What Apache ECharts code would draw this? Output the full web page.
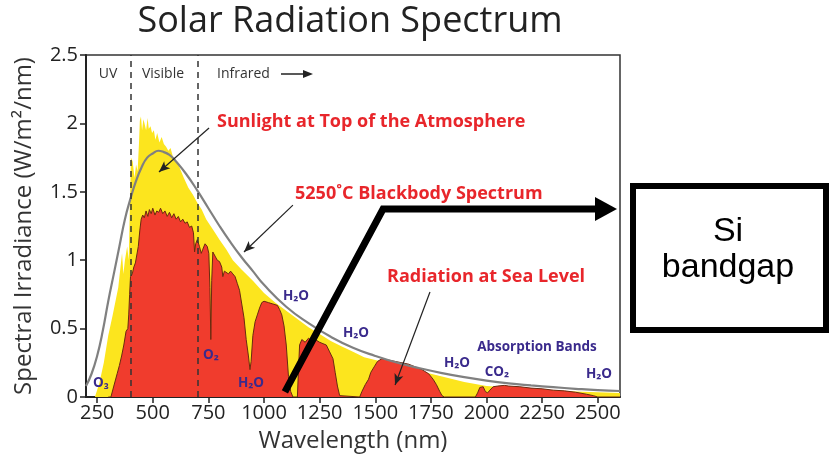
<!DOCTYPE html>
<html>
<head>
<meta charset="utf-8">
<script src="https://cdn.jsdelivr.net/npm/echarts@6/dist/echarts.min.js"></script>
<style>html,body{margin:0;padding:0;background:#fff;}#c{width:829px;height:456px;}</style>
</head>
<body>
<div id="c"></div>
<script>
// ---- data (wavelength nm, spectral irradiance W/m2/nm) ----
const xTicks = [250, 500, 750, 1000, 1250, 1500, 1750, 2000, 2250, 2500];
const regionBounds = [400, 700];

const topOfAtmosphere = [
  [240,0],[260,0.1],[280,0.25],[300,0.45],[320,0.6],[335,0.72],[345,0.8],[355,0.95],[362,1.05],[368,0.9],
  [375,1.0],[385,1.1],[392,1.0],[398,1.45],[402,1.75],[410,1.72],[418,1.6],[425,1.7],[432,1.65],[438,1.85],
  [442,2.02],[447,2.05],[452,1.95],[458,2.03],[463,2.0],[470,1.95],[477,2.04],[482,1.96],[490,1.98],[497,1.93],
  [505,1.95],[512,1.88],[520,1.93],[530,1.86],[540,1.9],[550,1.85],[560,1.83],[570,1.8],[580,1.82],[590,1.76],
  [600,1.74],[620,1.68],[640,1.6],[660,1.53],[680,1.48],[700,1.42],[720,1.37],[740,1.3],[760,1.25],[780,1.2],
  [800,1.15],[830,1.08],[860,1.0],[900,0.93],[950,0.85],[1000,0.76],[1050,0.69],[1100,0.63],[1150,0.57],[1200,0.51],
  [1250,0.46],[1300,0.41],[1350,0.37],[1400,0.33],[1450,0.29],[1500,0.27],[1550,0.25],[1600,0.23],[1650,0.21],
  [1700,0.19],[1750,0.17],[1800,0.15],[1850,0.13],[1900,0.11],[1950,0.095],[2000,0.08],[2050,0.075],[2100,0.07],
  [2200,0.06],[2300,0.05],[2400,0.04],[2500,0.035],[2600,0.03]
];

const seaLevel = [
  [300,0],[312,0],[325,0.08],[340,0.17],[350,0.23],[360,0.3],[370,0.38],[380,0.48],[388,0.5],[392,0.6],
  [396,0.75],[400,0.88],[408,0.9],[415,0.95],[422,0.98],[428,0.97],[435,1.1],[442,1.22],[448,1.3],[455,1.33],
  [462,1.31],[470,1.36],[478,1.32],[485,1.37],[493,1.34],[500,1.38],[510,1.33],[518,1.36],[527,1.35],[535,1.38],
  [545,1.34],[555,1.36],[565,1.32],[575,1.35],[585,1.31],[595,1.34],[605,1.3],[615,1.32],[625,1.28],[635,1.3],
  [645,1.27],[655,1.28],[665,1.24],[675,1.25],[683,1.2],[688,1.06],[693,1.12],[700,1.15],[710,1.1],[718,1.05],
  [725,1.08],[735,1.12],[745,1.1],[752,1.05],[757,0.8],[761,0.42],[765,0.85],[770,1.06],[780,1.03],[790,1.0],
  [800,0.99],[810,0.95],[815,0.88],[822,0.92],[830,0.93],[840,0.9],[850,0.92],[860,0.9],[870,0.88],[880,0.83],
  [890,0.78],[900,0.68],[910,0.58],[920,0.42],[930,0.3],[937,0.2],[942,0.26],[950,0.45],[960,0.55],[970,0.6],
  [980,0.65],[990,0.69],[1000,0.7],[1020,0.69],[1040,0.68],[1060,0.67],[1070,0.64],[1080,0.6],[1090,0.52],
  [1100,0.38],[1110,0.15],[1120,0.04],[1130,0],[1150,0],[1155,0.2],[1160,0.38],[1170,0.42],[1185,0.4],[1200,0.43],
  [1215,0.41],[1230,0.42],[1250,0.4],[1265,0.39],[1280,0.38],[1295,0.33],[1310,0.28],[1320,0.18],[1330,0.08],
  [1340,0.01],[1345,0],[1430,0],[1440,0.04],[1455,0.09],[1470,0.13],[1480,0.18],[1495,0.22],[1510,0.26],
  [1530,0.28],[1560,0.27],[1590,0.26],[1620,0.25],[1650,0.24],[1680,0.22],[1710,0.2],[1740,0.17],[1760,0.13],
  [1775,0.09],[1790,0.04],[1800,0.01],[1810,0],[1950,0],[1960,0.03],[1970,0.07],[1985,0.075],[1995,0.04],
  [2005,0.03],[2015,0.05],[2030,0.075],[2050,0.08],[2080,0.085],[2100,0.08],[2150,0.075],[2200,0.065],
  [2250,0.06],[2300,0.05],[2350,0.045],[2400,0.035],[2450,0.02],[2480,0.01],[2500,0],[2600,0]
];

const blackbody = [
  [200,0.08],[225,0.17],[250,0.3],[275,0.48],[300,0.7],[325,0.9],[350,1.1],[375,1.3],[400,1.45],[425,1.58],
  [450,1.68],[475,1.75],[500,1.78],[525,1.8],[550,1.79],[575,1.77],[600,1.73],[650,1.63],[700,1.51],[750,1.38],
  [800,1.25],[850,1.13],[900,1.02],[950,0.92],[1000,0.82],[1100,0.66],[1200,0.54],[1300,0.44],[1400,0.36],
  [1500,0.3],[1600,0.25],[1700,0.21],[1800,0.175],[1900,0.145],[2000,0.12],[2100,0.1],[2200,0.085],
  [2300,0.072],[2400,0.06],[2500,0.05],[2600,0.044]
];

// annotation pointers (data coordinates)
const sunlightPointer = [[753,1.966],[528,1.645]];
const blackbodyPointer = [[1130,1.403],[910,1.06]];
const seaLevelPointer = [[1746,0.768],[1589,0.088]];
const siArrowPath = [[1094,0.037],[1535,1.374],[2530,1.374]];
const siArrowTip = [2537,1.374];

const FONT = "'Open Sans', 'Noto Sans', sans-serif";
const RED = '#e8262b';
const BLUE = '#3a2a8c';

function ptr(p) {
  return [
    { coord: p[0], symbol: 'none' },
    { coord: p[1], symbol: 'arrow', symbolSize: [7, 11] }
  ];
}

function label(text, x, y, color, size, weight, align) {
  return {
    type: 'text', x: x, y: y, z: 100,
    style: { text: text, fill: color, font: (weight || 'normal') + ' ' + size + 'px ' + FONT,
             align: align || 'center', verticalAlign: 'middle' }
  };
}

const chart = echarts.init(document.getElementById('c'));
chart.setOption({
  animation: false,
  backgroundColor: '#fff',
  grid: { left: 86, right: 209, top: 55, bottom: 59, show: true, borderColor: '#333', borderWidth: 1.5, outerBoundsMode: 'none' },
  xAxis: {
    type: 'value', min: 200, max: 2600,
    name: 'Wavelength (nm)', nameLocation: 'middle', nameGap: 32,
    nameTextStyle: { fontFamily: FONT, fontSize: 24, color: '#333' },
    axisLine: { lineStyle: { color: '#222', width: 2 } },
    axisTick: { show: true, length: 6, customValues: xTicks, lineStyle: { color: '#222', width: 1.5 } },
    axisLabel: { customValues: xTicks, formatter: v => String(v), fontFamily: FONT, fontSize: 20, color: '#222', margin: 6 },
    splitLine: { show: false }
  },
  yAxis: {
    type: 'value', min: 0, max: 2.5, interval: 0.5,
    name: 'Spectral Irradiance (W/m²/nm)', nameLocation: 'middle', nameGap: 50,
    nameTextStyle: { fontFamily: FONT, fontSize: 24, color: '#333' },
    axisLine: { show: true, lineStyle: { color: '#222', width: 2 } },
    axisTick: { show: true, length: 6, lineStyle: { color: '#222', width: 1.5 } },
    axisLabel: { fontFamily: FONT, fontSize: 20, color: '#222', margin: 8 },
    splitLine: { show: false }
  },
  series: [
    {
      name: 'Sunlight at Top of the Atmosphere', type: 'line', data: topOfAtmosphere,
      symbol: 'none', lineStyle: { width: 0 }, areaStyle: { color: '#fce51e', opacity: 1 }, z: 2
    },
    {
      name: 'Radiation at Sea Level', type: 'line', data: seaLevel,
      symbol: 'none', lineStyle: { width: 1, color: '#6a2a10' }, areaStyle: { color: '#f03c2d', opacity: 1 }, z: 3
    },
    {
      name: '5250°C Blackbody Spectrum', type: 'line', data: blackbody, smooth: true,
      symbol: 'none', lineStyle: { width: 2.2, color: '#808080' }, z: 4,
      markLine: {
        silent: true, symbol: 'none', z: 5,
        label: { show: false },
        lineStyle: { color: '#333', width: 1.5, type: [6, 5] },
        data: regionBounds.map(v => ({ xAxis: v }))
      }
    },
    {
      name: 'pointers', type: 'line', data: [], z: 6,
      markLine: {
        silent: true, z: 6,
        label: { show: false },
        lineStyle: { color: '#222', width: 1.2, type: 'solid' },
        data: [ptr(sunlightPointer), ptr(blackbodyPointer), ptr(seaLevelPointer)]
      }
    },
    {
      name: 'Si bandgap arrow', type: 'line', data: siArrowPath, z: 10,
      symbol: 'none', lineStyle: { color: '#000', width: 7, join: 'miter', cap: 'butt' },
      markPoint: {
        silent: true,
        data: [{ coord: siArrowTip, symbol: 'triangle', symbolSize: [24, 22], symbolRotate: -90,
                 itemStyle: { color: '#000' }, label: { show: false } }]
      }
    }
  ],
  graphic: [
    label('Solar Radiation Spectrum', 350, 22, '#222', 36, 'normal'),
    label('UV', 108, 74, '#333', 14),
    label('Visible', 163, 74, '#333', 14),
    label('Infrared', 217, 74, '#333', 14, 'normal', 'left'),
    { type: 'line', z: 100, shape: { x1: 281, y1: 74, x2: 305, y2: 74 }, style: { stroke: '#222', lineWidth: 1.5 } },
    { type: 'polygon', z: 100, shape: { points: [[303, 70], [313, 74], [303, 78]] }, style: { fill: '#222' } },
    label('Sunlight at Top of the Atmosphere', 217, 122, RED, 18, 'bold', 'left'),
    label('5250˚C Blackbody Spectrum', 295, 194, RED, 18, 'bold', 'left'),
    label('Radiation at Sea Level', 387, 277, RED, 18, 'bold', 'left'),
    label('H₂O', 296, 296, BLUE, 13.5, 'bold'),
    label('H₂O', 356, 333, BLUE, 13.5, 'bold'),
    label('H₂O', 457, 363, BLUE, 13.5, 'bold'),
    label('H₂O', 599, 374, BLUE, 13.5, 'bold'),
    label('H₂O', 251, 383, BLUE, 13.5, 'bold'),
    label('O₂', 211, 355, BLUE, 13.5, 'bold'),
    label('O₃', 101, 383, BLUE, 13.5, 'bold'),
    label('CO₂', 497, 372, BLUE, 13.5, 'bold'),
    label('Absorption Bands', 537, 347, BLUE, 13.5, 'bold'),
    {
      type: 'rect', z: 100, shape: { x: 633, y: 186, width: 193, height: 144 },
      style: { fill: '#fff', stroke: '#000', lineWidth: 6 }
    },
    {
      type: 'text', x: 728, y: 232, z: 101,
      style: { text: 'Si', fill: '#000', font: "34px 'Liberation Sans', Arial, sans-serif", align: 'center', verticalAlign: 'middle' }
    },
    {
      type: 'text', x: 728, y: 268, z: 101,
      style: { text: 'bandgap', fill: '#000', font: "34px 'Liberation Sans', Arial, sans-serif", align: 'center', verticalAlign: 'middle' }
    }
  ]
});
</script>
</body>
</html>
